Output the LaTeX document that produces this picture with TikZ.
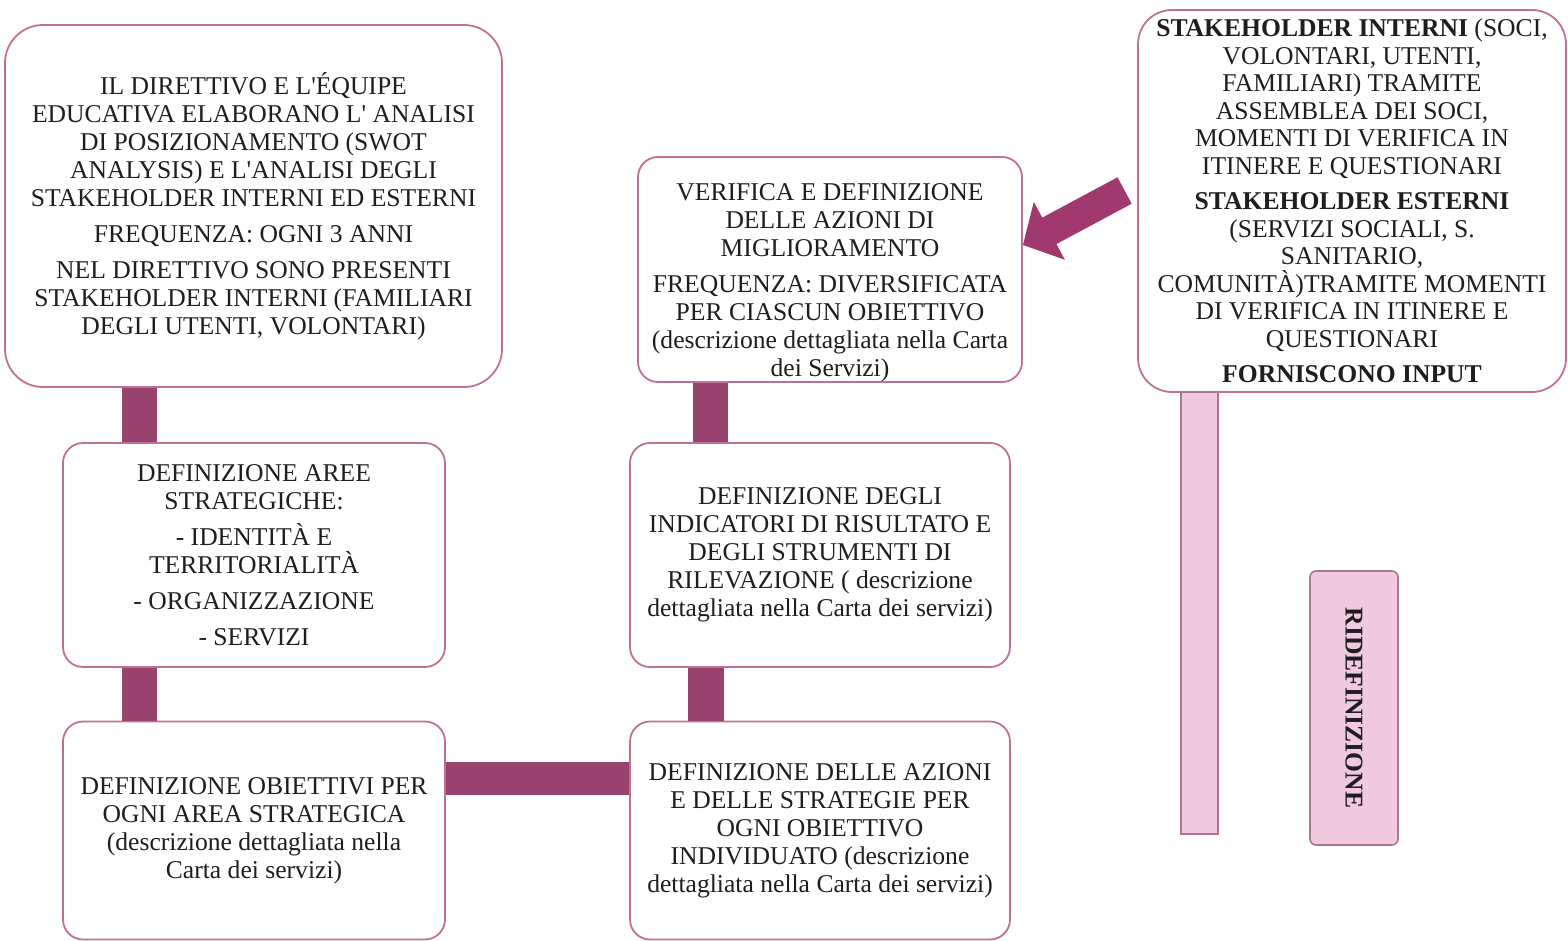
\documentclass[tikz,border=0pt]{standalone}
\usepackage{fontspec}
\setmainfont{Liberation Serif}
\usetikzlibrary{arrows.meta}
\definecolor{boxline}{RGB}{192,112,152}
\definecolor{barcol}{RGB}{152,66,110}
\definecolor{arrowcol}{RGB}{160,58,110}
\definecolor{stemfill}{RGB}{240,200,224}
\definecolor{stemline}{RGB}{168,120,146}
\definecolor{inktext}{RGB}{30,30,30}

\begin{document}
\begin{tikzpicture}[x=0.5pt,y=-0.5pt,
  stepbox/.style={draw=boxline,line width=0.9pt,fill=white,rounded corners=10pt,
    align=center,text=inktext,inner sep=2pt,font=\fontsize{12.8}{14}\selectfont},
  bar/.style={draw=barcol,line width=17.5pt},
  pinkbox/.style={draw=stemline,line width=0.8pt,fill=stemfill}]
\useasboundingbox (0,0) rectangle (1568,941);
\node[stepbox,rounded corners=19pt,minimum width=248.5pt,minimum height=181pt] (analisi) at (253.5,206)
  {IL DIRETTIVO E L\textquotesingle ÉQUIPE\\
   EDUCATIVA ELABORANO L\textquotesingle{} ANALISI\\
   DI POSIZIONAMENTO (SWOT\\
   ANALYSIS) E L\textquotesingle ANALISI DEGLI\\
   STAKEHOLDER INTERNI ED ESTERNI\\[4pt]
   FREQUENZA: OGNI 3 ANNI\\[4pt]
   NEL DIRETTIVO SONO PRESENTI\\
   STAKEHOLDER INTERNI (FAMILIARI\\
   DEGLI UTENTI, VOLONTARI)};
\node[stepbox,minimum width=191pt,minimum height=112pt] (aree) at (254,555)
  {DEFINIZIONE AREE\\
   STRATEGICHE:\\[4pt]
   - IDENTITÀ E\\
   TERRITORIALITÀ\\[4pt]
   - ORGANIZZAZIONE\\[4pt]
   - SERVIZI};
\node[stepbox,minimum width=191pt,minimum height=109pt] (obiettivi) at (254,830.5)
  {DEFINIZIONE OBIETTIVI PER\\
   OGNI AREA STRATEGICA\\
   (descrizione dettagliata nella\\
   Carta dei servizi)};
\node[stepbox,minimum width=190pt,minimum height=109pt] (azioni) at (820,830.5)
  {DEFINIZIONE DELLE AZIONI\\
   E DELLE STRATEGIE PER\\
   OGNI OBIETTIVO\\
   INDIVIDUATO (descrizione\\
   dettagliata nella Carta dei servizi)};
\node[stepbox,minimum width=190pt,minimum height=112pt] (indicatori) at (820,555)
  {DEFINIZIONE DEGLI\\
   INDICATORI DI RISULTATO E\\
   DEGLI STRUMENTI DI\\
   RILEVAZIONE ( descrizione\\
   dettagliata nella Carta dei servizi)};
\node[stepbox,inner ysep=0pt,minimum width=192pt,minimum height=112.5pt] (verifica) at (830,269.5)
  {\rule{0pt}{21.5pt}VERIFICA E DEFINIZIONE\\
   DELLE AZIONI DI\\
   MIGLIORAMENTO\\[4pt]
   FREQUENZA: DIVERSIFICATA\\
   PER CIASCUN OBIETTIVO\\
   (descrizione dettagliata nella Carta\\
   dei Servizi)};
\node[stepbox,rounded corners=17pt,minimum width=214pt,minimum height=191pt,
  font=\fontsize{12.8}{13.75}\selectfont] (input) at (1352,201)
  {\textbf{STAKEHOLDER INTERNI} (SOCI,\\
   VOLONTARI, UTENTI,\\
   FAMILIARI) TRAMITE\\
   ASSEMBLEA DEI SOCI,\\
   MOMENTI DI VERIFICA IN\\
   ITINERE E QUESTIONARI\\[4pt]
   \textbf{STAKEHOLDER ESTERNI}\\
   (SERVIZI SOCIALI, S.\\
   SANITARIO,\\
   COMUNITÀ)TRAMITE MOMENTI\\
   DI VERIFICA IN ITINERE E\\
   QUESTIONARI\\[4pt]
   \textbf{FORNISCONO INPUT}};
\node[pinkbox,minimum width=18.5pt,minimum height=221pt,inner sep=0pt] (stem) at (1199.5,613) {};
\node[pinkbox,rounded corners=3pt,rotate=-90,minimum width=137pt,minimum height=44pt,
  text=inktext,font=\fontsize{12.8}{14}\selectfont\bfseries] (ridef) at (1354,708) {RIDEFINIZIONE};
\draw[bar] ([xshift=-57pt]analisi.south) -- ([xshift=-57pt]analisi.south |- aree.north);
\draw[bar] ([xshift=-57.25pt]aree.south) -- ([xshift=-57.25pt]aree.south |- obiettivi.north);
\draw[bar,line width=16.5pt] ([yshift=26pt]obiettivi.east) -- ([yshift=26pt]obiettivi.east -| azioni.west);
\draw[bar,line width=18pt] ([xshift=-57pt]indicatori.south) -- ([xshift=-57pt]indicatori.south |- azioni.north);
\draw[bar] ([xshift=-59.75pt]verifica.south) -- ([xshift=-59.75pt]verifica.south |- indicatori.north);
\draw[arrowcol,line width=15pt,-{Triangle[length=15pt,width=32pt]}]
  ([xshift=-6.25pt,yshift=5.25pt]input.west) -- ([yshift=12.25pt]verifica.east);
\end{tikzpicture}
\end{document}
